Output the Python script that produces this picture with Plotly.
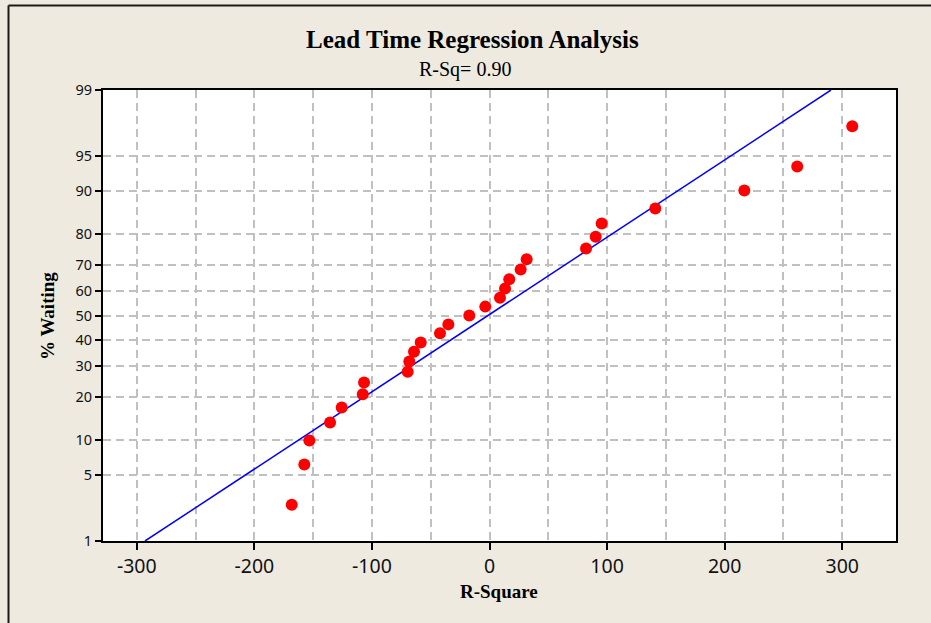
import plotly.graph_objects as go
from statistics import NormalDist

# ---------------- data ----------------
r_square = [-168.2, -157.5, -153.2, -135.6, -125.7, -107.8, -106.7, -69.6, -68.2,
            -64.2, -58.5, -42.1, -35.0, -17.2, -3.6, 8.9, 13.2, 16.8, 26.5, 31.6,
            82.1, 90.3, 95.4, 141.0, 216.7, 261.7, 308.5]
pct_waiting = [2.55, 6.20, 9.85, 13.50, 17.15, 20.80, 24.45, 28.10, 31.75, 35.40,
               39.05, 42.70, 46.35, 50.00, 53.65, 57.30, 60.95, 64.60, 68.25, 71.90,
               75.55, 79.20, 82.85, 86.50, 90.15, 93.80, 97.45]
fit_x = [-293.0, 290.4]
fit_pct = [1, 99]
y_ticks = [1, 5, 10, 20, 30, 40, 50, 60, 70, 80, 90, 95, 99]
x_ticks = [-300, -200, -100, 0, 100, 200, 300]

title_text = "Lead Time Regression Analysis"
subtitle_text = "R-Sq= 0.90"
x_title = "R-Square"
y_title = "% Waiting"

# ---------------- probability scale ----------------
nd = NormalDist()
def probit(p):
    return nd.inv_cdf(p / 100.0)

W, H = 931, 623
L, R, T, B = 103, 896, 90, 541   # plot area in pixels
def px(xp):
    return (xp - L) / (R - L)
def py(yp):
    return (B - yp) / (B - T)

BG = "#EEEAE0"
SERIF = "Liberation Serif, Times New Roman, serif"
SANS = "Noto Sans, DejaVu Sans, sans-serif"

fig = go.Figure()
fig.add_trace(go.Scatter(
    x=fit_x, y=[probit(p) for p in fit_pct], mode="lines",
    line=dict(color="#0000FF", width=1.5), showlegend=False, hoverinfo="skip"))
fig.add_trace(go.Scatter(
    x=r_square, y=[probit(p) for p in pct_waiting], mode="markers",
    marker=dict(color="#FF0000", size=12, line=dict(width=0)), showlegend=False))

grid = dict(gridcolor="#C0C0C0", gridwidth=1.5, griddash="8px,5px")

fig.update_xaxes(
    range=[-328.7, 345.7], tickvals=x_ticks, ticktext=[str(v) for v in x_ticks],
    ticks="outside", ticklen=7, tickwidth=1.5, tickcolor="#000",
    tickfont=dict(family=SANS, size=19.5, color="#111"),
    showline=True, linecolor="#000", linewidth=2, mirror=True,
    showgrid=True, **grid,
    minor=dict(dtick=50, tick0=0, showgrid=True, gridcolor="#C0C0C0",
               gridwidth=1.5, griddash="8px,5px", ticks=""),
    zeroline=False)
fig.update_yaxes(
    range=[probit(1), probit(99)], tickvals=[probit(v) for v in y_ticks],
    ticktext=[str(v) for v in y_ticks],
    ticks="outside", ticklen=6, tickwidth=1.5, tickcolor="#000",
    tickfont=dict(family=SANS, size=14.5, color="#111"),
    showline=True, linecolor="#000", linewidth=2, mirror=True,
    showgrid=True, **grid, zeroline=False)

ann = [
    dict(text="<b>" + title_text + "</b>", x=px(472), y=py(39),
         font=dict(family=SERIF, size=25, color="#000")),
    dict(text=subtitle_text, x=px(465), y=py(70),
         font=dict(family=SERIF, size=20, color="#000")),
    dict(text="<b>" + x_title + "</b>", x=px(499), y=py(591),
         font=dict(family=SERIF, size=19, color="#000")),
    dict(text="<b>" + y_title + "</b>", x=px(47), y=py(316), textangle=-90,
         font=dict(family=SERIF, size=19, color="#000")),
]
for a in ann:
    a.update(xref="paper", yref="paper", xanchor="center", yanchor="middle",
             showarrow=False)

shapes = [
    dict(type="line", xref="paper", yref="paper", x0=px(8.5), x1=px(8.5),
         y0=py(5.5), y1=py(640), line=dict(color="#1A1A1A", width=2)),
    dict(type="line", xref="paper", yref="paper", x0=px(8.5), x1=px(950),
         y0=py(5.5), y1=py(5.5), line=dict(color="#1A1A1A", width=2)),
]

fig.update_layout(
    width=W, height=H, autosize=False,
    margin=dict(l=L, r=W - R, t=T, b=H - B, pad=0),
    paper_bgcolor=BG, plot_bgcolor="#FFFFFF",
    annotations=ann, shapes=shapes, showlegend=False)

fig.write_html(
    "out.html",
    config={"displayModeBar": False},
    post_script="document.body.style.margin='0';document.body.style.padding='0';"
                "document.body.style.background='" + BG + "';"
                "document.body.style.overflow='hidden';")
